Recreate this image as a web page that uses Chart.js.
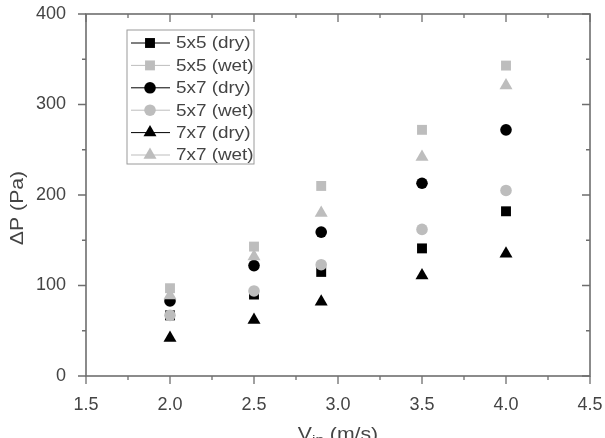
<!DOCTYPE html>
<html>
<head>
<meta charset="utf-8">
<script src="https://cdn.jsdelivr.net/npm/chart.js@4.4.1/dist/chart.umd.min.js"></script>
<style>
  html, body { margin: 0; padding: 0; background: #fff; }
  #wrap { width: 605px; height: 438px; position: relative; }
</style>
</head>
<body>
<div id="wrap"><canvas id="chart-dp"></canvas></div>
<script>
// Pressure drop vs inlet velocity, dry / wet tube banks
const velocities = [2.0, 2.5, 2.9, 3.5, 4.0];
const dp5x5Dry = [67, 90, 115, 141, 182];
const dp5x5Wet = [97, 143, 210, 272, 343];
const dp5x7Dry = [83, 122, 159, 213, 272];
const dp5x7Wet = [67, 94, 123, 162, 205];
const dp7x7Dry = [42, 62, 82, 111, 135];
const dp7x7Wet = [89, 132, 180, 242, 321];

const xTicks = [1.5, 2.0, 2.5, 3.0, 3.5, 4.0, 4.5];
const yTicks = [0, 100, 200, 300, 400];

const BLACK = '#000000';
const GREY = '#bdbdbd';
const AXIS = '#6e6e6e';
const TEXT = '#444444';
const FONT = '"Liberation Sans", Arial, sans-serif';

const series = [
    { label: '5x5 (dry)', data: dp5x5Dry, color: BLACK, style: 'rect', r: 7 },
    { label: '5x5 (wet)', data: dp5x5Wet, color: GREY, style: 'rect', r: 7 },
    { label: '5x7 (dry)', data: dp5x7Dry, color: BLACK, style: 'circle', r: 5.8 },
    { label: '5x7 (wet)', data: dp5x7Wet, color: GREY, style: 'circle', r: 5.8 },
    { label: '7x7 (dry)', data: dp7x7Dry, color: BLACK, style: 'triangle', r: 7.5 },
    { label: '7x7 (wet)', data: dp7x7Wet, color: GREY, style: 'triangle', r: 7.5 },
];

// draw stretched text (reference glyphs are wider than normal)
function wideText(ctx, str, x, y, size, align) {
    ctx.save();
    ctx.font = `${size}px ${FONT}`;
    const sx = 1.18;
    const w = ctx.measureText(str).width * sx;
    let x0 = x;
    if (align === 'center') x0 = x - w / 2;
    ctx.translate(x0, y);
    ctx.scale(sx, 1);
    ctx.textAlign = 'left';
    ctx.fillText(str, 0, 0);
    ctx.restore();
    return w;
}

// drop label overhang so the plot box lands where the reference has it
const noOverhang = s => {
    s.paddingTop = 0;
    s.paddingBottom = 0;
    s.paddingLeft = 0;
    s.paddingRight = 0;
};

const framePlugin = {
    id: 'originFrame',
    afterDraw(chart) {
        const { ctx, chartArea: a, scales } = chart;
        const xs = scales.x, ys = scales.y;
        ctx.save();
        ctx.strokeStyle = AXIS;
        ctx.lineWidth = 1.6;
        ctx.strokeRect(a.left, a.top, a.right - a.left, a.bottom - a.top);

        ctx.lineWidth = 1.3;
        ctx.beginPath();
        // x ticks: major every 0.5, minor between
        for (let v = 1.5; v <= 4.5001; v += 0.25) {
            const px = xs.getPixelForValue(v);
            const major = Math.abs(v * 2 - Math.round(v * 2)) < 1e-6;
            const len = major ? 8 : 4;
            ctx.moveTo(px, a.bottom); ctx.lineTo(px, a.bottom + len);
            ctx.moveTo(px, a.top); ctx.lineTo(px, a.top + len);
        }
        // y ticks: major every 100, minor every 50
        for (let v = 0; v <= 400; v += 50) {
            const py = ys.getPixelForValue(v);
            const len = v % 100 === 0 ? 8 : 4;
            ctx.moveTo(a.left, py); ctx.lineTo(a.left - len, py);
            ctx.moveTo(a.right, py); ctx.lineTo(a.right - len, py);
        }
        ctx.stroke();

        // axis titles
        ctx.fillStyle = TEXT;
        ctx.textBaseline = 'middle';
        const cx = (a.left + a.right) / 2;
        const by = 435;
        const partV = 'V', partIn = 'in', partRest = ' (m/s)';
        const sx = 1.18;
        ctx.font = `18px ${FONT}`;
        const wV = ctx.measureText(partV).width * sx;
        const wR = ctx.measureText(partRest).width * sx;
        ctx.font = `13px ${FONT}`;
        const wI = ctx.measureText(partIn).width * sx;
        const x0 = cx - (wV + wI + wR) / 2;
        wideText(ctx, partV, x0, by, 18);
        wideText(ctx, partIn, x0 + wV, by + 5, 13);
        wideText(ctx, partRest, x0 + wV + wI, by, 18);

        ctx.save();
        ctx.translate(18, 208);
        ctx.rotate(-Math.PI / 2);
        wideText(ctx, 'ΔP (Pa)', 0, 0, 18, 'center');
        ctx.restore();

        // legend box
        const lx = 127, ly = 30, lw = 127, lh = 134;
        ctx.strokeStyle = '#9a9a9a';
        ctx.lineWidth = 1;
        ctx.strokeRect(lx, ly, lw, lh);
        chart.data.datasets.forEach((ds, i) => {
            const y = 43 + i * 22.4;
            ctx.strokeStyle = ds.borderColor;
            ctx.lineWidth = 1;
            ctx.beginPath();
            ctx.moveTo(131, y); ctx.lineTo(170, y);
            ctx.stroke();
            ctx.fillStyle = ds.backgroundColor;
            ctx.strokeStyle = ds.borderColor;
            Chart.helpers.drawPoint(ctx, { pointStyle: ds.pointStyle, radius: ds.pointRadius, borderWidth: 0, rotation: 0 }, 150, y);
            ctx.fillStyle = TEXT;
            ctx.textBaseline = 'middle';
            wideText(ctx, ds.label, 176, y + 1, 16);
        });
        ctx.restore();
    },
};

new Chart(document.getElementById('chart-dp').getContext('2d'), {
    type: 'scatter',
    data: {
        datasets: series.map((s, i) => ({
            label: s.label,
            data: velocities.map((v, j) => ({ x: v, y: s.data[j] })),
            pointStyle: s.style,
            pointRadius: s.r,
            pointHoverRadius: s.r,
            backgroundColor: s.color,
            borderColor: s.color,
            borderWidth: 0,
            order: series.length - i,
        })),
    },
    plugins: [framePlugin],
    options: {
        responsive: true,
        maintainAspectRatio: false,
        animation: false,
        layout: { padding: { top: 14, right: 15, left: 0, bottom: 0 } },
        plugins: {
            legend: { display: false },
            tooltip: { enabled: false },
        },
        scales: {
            x: {
                type: 'linear',
                min: 1.5,
                max: 4.5,
                afterBuildTicks: s => { s.ticks = xTicks.map(v => ({ value: v })); },
                afterFit: s => { s.height = 62; noOverhang(s); },
                grid: { display: false },
                border: { display: false },
                ticks: {
                    padding: 10,
                    color: TEXT,
                    font: { family: FONT, size: 18 },
                    callback: v => Number(v).toFixed(1),
                    maxRotation: 0,
                },
            },
            y: {
                type: 'linear',
                min: 0,
                max: 400,
                afterBuildTicks: s => { s.ticks = yTicks.map(v => ({ value: v })); },
                afterFit: s => { s.width = 86; noOverhang(s); },
                grid: { display: false },
                border: { display: false },
                ticks: {
                    padding: 12,
                    color: TEXT,
                    font: { family: FONT, size: 18 },
                },
            },
        },
    },
});
</script>
</body>
</html>
